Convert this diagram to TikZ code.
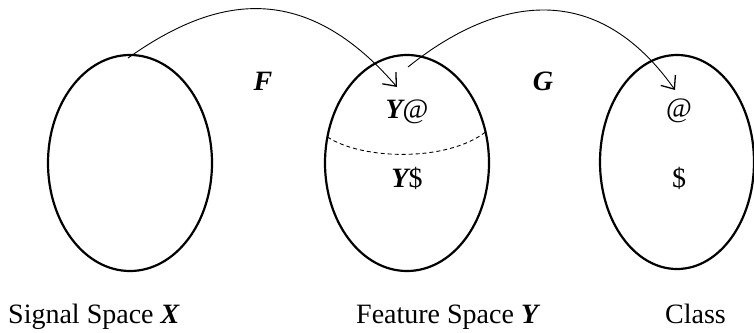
\documentclass[tikz,border=0pt]{standalone}
\usepackage{fontspec}
\setmainfont{Liberation Serif}
\usetikzlibrary{arrows.meta,shapes.geometric}
\begin{document}
\begin{tikzpicture}[x=1pt,y=-1pt,
  space/.style={draw,ellipse,line width=2.2pt,minimum width=164pt,minimum height=216pt,inner sep=0pt},
  map/.style={line width=0.9pt,-{Straight Barb[length=11pt,width=18pt,line width=1.3pt]}},
  part/.style={line width=0.9pt,dashed,dash pattern=on 4pt off 3pt},
  lbl/.style={font=\fontsize{28}{33}\selectfont,inner sep=0pt},
  sym/.style={lbl,anchor=center},
]
\useasboundingbox (0,0) rectangle (754,332);
% spaces
\node[space] (X) at (130,163) {};
\node[space] (Y) at (407,163) {};
\node[space,minimum width=154pt,minimum height=214pt] (C) at (677,162) {};
% partition of Y
\coordinate (pl) at (327.5,137);
\coordinate (pr) at (485.5,132);
\draw[part] (pl) .. controls (362,160) and (447,162) .. (pr);
% inner labels
\node[sym] (Ya) at (407,112) {{\bfseries\itshape Y}@};
\node[sym] (Yb) at (407,178) {{\bfseries\itshape Y}\$};
\node[sym] (Ca) at (679,111) {@};
\node[sym] (Cb) at (679,178) {\$};
% maps
\coordinate (fs) at (128,58);
\coordinate (ft) at (397,87);
\coordinate (gs) at (408,67);
\coordinate (gt) at (675,90);
\draw[map] (fs) .. controls (210,0) and (300,-25) .. (ft);
\draw[map] (gs) .. controls (485,5) and (590,-30) .. (gt);
\node[sym] (F) at (263,81) {\bfseries\itshape F};
\node[sym] (G) at (543,81) {\bfseries\itshape G};
% captions
\node[lbl,anchor=base west] (lX) at (8,323) {Signal Space {\bfseries\itshape X}};
\node[lbl,anchor=base west] (lY) at (356,323) {Feature Space {\bfseries\itshape Y}};
\node[lbl,anchor=base west] (lC) at (665,323) {Class};
\end{tikzpicture}
\end{document}
